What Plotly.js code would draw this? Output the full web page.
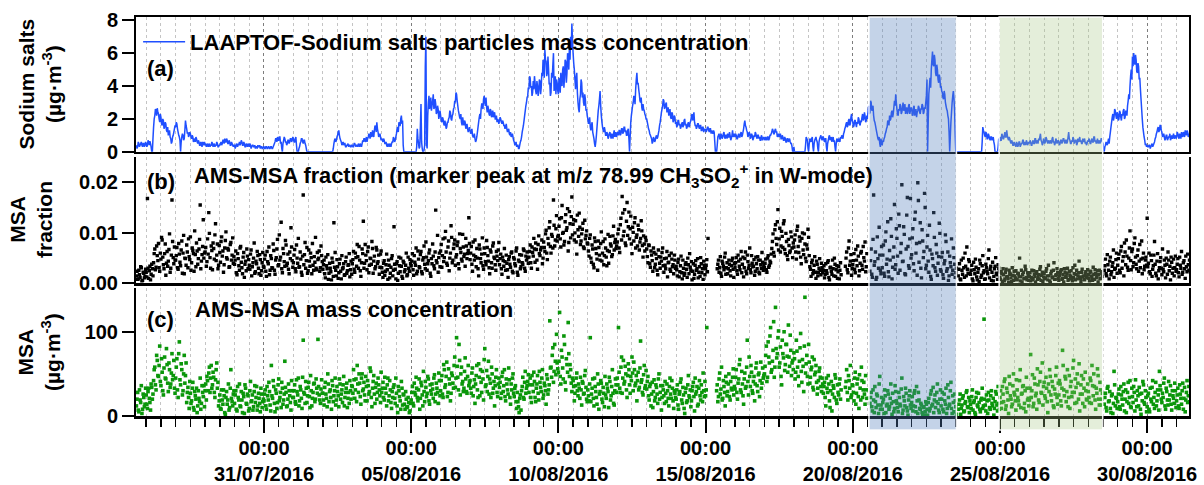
<!DOCTYPE html>
<html>
<head>
<meta charset="utf-8">
<script src="https://cdn.plot.ly/plotly-3.0.1.min.js"></script>
<style>
  html, body { margin: 0; padding: 0; background: #fff; }
  #chart { width: 1204px; height: 485px; }
</style>
</head>
<body>
<div id="chart"></div>
<script>
// Samples on the hour and on the half hour, from 26/07/2016 16:00 to 31/08/2016 10:30.
const seriesStart = Date.UTC(2016, 6, 26, 16, 0);

// (a) LAAPTOF sodium-salt particle mass concentration, µg·m-3 (0 where nothing was recorded)
const sodiumSalts = [
  0.4,0.3,0.5,0.4,0.6,0.3,0.5,0.4,
  0.5,0.4,0.6,0.65,0.3,0, 1.5,2.2,2.5,2.65,2.3,1.8, 2.1,1.6,1.9,1.5,1.7,1.2, 1.0,1.3,0.8,0.6,1.0,1.4,
  1.5,1.7,1.2,0.9,0,0.9, 1.0,0.8,1.9,1.4,1.2,1.0, 1.1,0.8,0.9,0.7,0.6,0.8, 0.5,0.6,0.4,0.5,0.6,0.4,
  0.4,0.3,0.5,0.4,0.3,0.4, 0.5,0.4,0.3,0.4,0.5,0.3, 0.4,0.6,0.5,0.7,0.8,0.6, 0.7,0.5,0.6,0.4,0.5,0.3,
  0.4,0.3,0.4,0.5,0.6,0.5, 0.6,0.4,0.5,0.3,0.4,0.5, 0.3,0.4,0.3,0.4,0.3,0.2, 0.3,0.4,0.3,0.2,0.3,0.2,
  0.3,0.2,0.3,0.2,0.3,0.2, 0.3,0.2,0.4,0.6,0.8,0.9, 0.7,0.9,0.6,0,0.7,0.8, 0.6,0.5,0.7,0.6,0.8,0.7,
  0.8,0.6,0.9,0,0,0.3, 0.6,0.8,0.5,0.7,0.4,0, 0,0,0,0,0,0, 0,0,0,0,0,0,
  0,0,0,0,0,0, 0,0,0,0.5,0.8,0.7, 1.0,1.3,0.8,0.6,0.5,0.4, 0.5,0.3,0.4,0.3,0.4,0.3,
  0.4,0.3,0.5,0.3,0.4,0.5, 0.3,0.4,0.5,0.6,0.8,0.7, 0.6,0.9,1.0,1.2,0.9,1.1, 1.3,1.5,1.8,1.2,1.0,0.9,
  0.8,0.6,0.7,0.5,0.4,0.5, 0.3,0.4,0.5,0.6,0.8,0.7, 1.1,1.5,1.8,1.6,2.2,1.9, 0,0,0,0,0,0,
  0,0,0,0,0,1.4, 0.5,0.3,2.9,0.2,0,0.4, 7.0,0.2,3.0,2.6,3.3,2.8, 3.5,2.7,2.9,2.4,2.6,2.2,
  2.2,1.8,2.0,1.6,1.7,1.5, 1.8,2.1,2.4,1.9,2.3,2.7, 3.0,3.5,2.8,2.3,2.0,1.8, 2.1,1.6,1.8,1.5,1.4,1.3,
  1.3,1.2,1.0,0.9,0.8,0.7, 1.2,1.8,2.3,2.6,2.9,3.2, 3.0,3.3,2.4,2.6,2.2,2.5, 2.3,2.1,2.4,2.0,1.8,1.9,
  1.9,2.0,1.7,1.8,1.6,1.5, 1.4,1.3,1.1,1.2,1.0,0.9, 0.6,0.5,0.3,0.4,0.2,0.6, 0.9,1.4,1.9,2.5,3.0,3.4,
  3.8,4.5,4.0,3.6,3.8,4.2, 3.5,4.0,3.7,4.3,3.9,4.6, 5.2,6.2,5.5,4.8,5.0,4.2, 3.6,4.5,6.0,4.0,3.5,4.2,
  3.5,4.2,4.8,4.0,5.2,4.5, 5.5,4.8,5.8,6.5,7.0,7.8, 6.0,5.0,3.8,4.8,3.0,2.4, 3.5,4.2,3.6,2.8,3.2,2.6,
  2.0,1.8,1.5,1.6,1.2,0.8, 0.3,1.0,2.0,2.8,3.7,2.2, 1.5,1.2,1.3,1.0,1.1,0.9, 1.2,0.8,1.0,1.1,0.9,1.0,
  1.2,1.0,1.3,1.1,1.4,1.2, 1.5,1.3,1.0,1.4,0,1.8, 2.5,3.0,3.3,3.8,4.8,4.2, 3.5,3.0,2.7,2.9,2.5,2.2,
  2.0,1.6,1.3,1.0,0.8,0.6, 0.8,0.7,1.0,0.9,1.3,1.8, 2.4,2.8,3.1,2.7,3.0,2.5, 2.2,2.6,2.0,2.3,1.9,2.1,
  1.8,1.6,1.9,1.7,1.5,1.8, 1.6,2.0,1.7,1.5,1.8,1.6, 1.9,2.3,2.1,1.8,1.6,1.5, 1.7,1.4,1.6,1.3,1.5,1.4,
  1.4,1.3,1.5,1.2,1.4,1.3, 1.1,1.2,0,0,0.9,1.1, 0.8,1.0,0.9,1.2,0.8,1.0, 1.1,0.9,1.0,0.8,1.3,1.0,
  0.9,1.0,0.8,1.1,0.9,1.2, 1.0,1.4,1.9,1.5,1.2,1.0, 1.1,0.9,1.0,0.8,0.9,1.1, 0.8,1.0,0.9,0.7,0.9,0.8,
  0.8,0.9,0.7,0.9,0.8,1.0, 1.2,1.3,1.1,1.4,1.2,1.0, 0.9,1.1,0.8,0.9,0.7,0.8, 0.6,0.8,0.7,0.6,0.5,0,
  0.3,0,0,0,0,0, 0,0,0,0,0.9,0.7, 0,0.8,0.6,0.9,0,0.7, 0.9,0.6,0,0.8,1.0,0.7,
  0.9,0.6,0.8,0,0.7,1.0, 0.8,0.6,0.9,0.7,0,0.8, 0.6,0.7,0.9,1.0,0.8,1.2, 1.5,1.8,1.6,2.0,1.7,2.3,
  1.8,1.6,1.9,1.5,1.7,2.0, 1.6,1.8,2.3,2.0,2.2,1.9, 2.0,2.8,2.4,3.0,2.6,2.2, 1.8,1.4,1.0,0.7,0.5,0.8,
  0.4,0.6,0.9,1.2,1.5,1.8, 2.2,2.0,2.5,2.3,3.1,3.5, 2.6,2.2,2.5,2.8,2.4,3.0, 2.6,2.3,2.7,2.4,2.9,2.5,
  2.6,2.2,2.8,2.4,2.1,2.5, 2.7,2.3,2.6,2.8,2.4,2.6, 3.4,0,3.5,4.5,5.0,6.1, 5.2,5.6,4.6,5.0,4.2,4.5,
  4.0,3.6,3.2,3.5,2.8,2.5, 2.0,0,1.8,3.0,3.7,2.5, 0,0,0,0,0,0, 0,0,0,0,0,0,
  0,0,0,0,0,0, 0,0,0,0,1.5,1.2, 0.9,1.1,0.8,1.0,0.7,0.9, 0.8,0.6,0,0,0,0.8,
  0.9,0.7,1.0,0.8,1.2,0.9, 1.0,0.7,0.8,0.5,0.6,0.4, 0.5,0.3,0.5,0.4,0.6,0.4, 0.5,0.7,0.5,0.4,0.6,0.5,
  0.5,0.6,0.4,0.7,0.5,0.8, 0.6,0.5,0.7,1.1,0.6,0.5, 0.7,0.6,0.8,0.5,0.6,0.7, 0.5,0.9,0.6,0.5,0.7,0.6,
  0.6,0.5,0.7,0.6,0.8,0.5, 0.7,0.6,1.2,0.7,0.5,0.6, 0.8,0.6,0.7,0.5,0.6,0.9, 0.7,0.5,0.6,0.8,0.6,0.5,
  0.6,0.7,0.5,0.8,0.6,0.9, 0.7,0.6,0.5,0.7,0.6,0.8, 0.5,0,0.4,0.5,0.6,0.5, 1.2,1.8,2.3,2.1,2.5,2.0,
  2.3,2.0,2.4,1.9,2.2,2.6, 2.1,2.4,2.8,3.5,4.0,5.0, 5.8,6.0,5.3,5.6,4.8,5.2, 4.5,3.2,2.0,1.2,0.7,0.5,
  0.4,0.3,0.4,0.3,0.5,0.4, 0.6,0.9,1.2,1.5,1.3,1.6, 1.2,1.0,0.9,0.8,1.0,0.8, 0.9,0.7,1.0,0.9,0.8,1.0,
  0.9,1.1,0.8,1.0,1.2,0.9, 1.1,1.3,1.0,1.2,1.1
];
// same quantity, samples at half past each hour
const sodiumSaltsHalf = [
  0.2,0.6,0.3,0.5,0.4,0.5,0.3,0.6,
  0.3,0.7,0.4,0.5,0,0.8, 2.0,2.6,2.2,2.4,2.0,2.3, 1.7,2.0,1.4,1.8,1.3,1.5, 1.2,0.9,0.5,0.9,1.2,1.6,
  1.8,1.4,1.0,0.7,0.6,1.1, 0.7,1.3,1.6,1.1,0.9,1.2, 0.9,1.0,0.6,0.8,0.9,0.6, 0.7,0.4,0.6,0.3,0.5,0.6,
  0.5,0.4,0.3,0.5,0.4,0.6, 0.3,0.5,0.4,0.6,0.3,0.4, 0.5,0.4,0.7,0.5,0.6,0.8, 0.5,0.7,0.4,0.6,0.4,0.4,
  0.2,0.5,0.3,0.4,0.4,0.7, 0.4,0.6,0.3,0.5,0.3,0.4, 0.5,0.2,0.4,0.3,0.4,0.3, 0.2,0.3,0.4,0.3,0.2,0.3,
  0.2,0.3,0.2,0.3,0.2,0.3, 0.2,0.3,0.5,0.8,0.6,0.7, 0.9,0.5,0.2,0.5,0.9,0.6, 0.4,0.7,0.5,0.8,0.6,0.9,
  0.6,0.8,0.4,0,0.2,0.5, 0.8,0.6,0.7,0.5,0.2,0, 0,0,0,0,0,0, 0,0,0,0,0,0,
  0,0,0,0,0,0, 0,0,0.2,0.7,0.6,0.9, 1.2,1.0,0.7,0.4,0.6,0.5, 0.3,0.4,0.5,0.4,0.3,0.4,
  0.3,0.5,0.4,0.4,0.3,0.4, 0.5,0.3,0.7,0.8,0.6,0.9, 0.8,1.1,0.8,1.0,1.3,0.9, 1.6,1.2,1.4,0.9,1.1,0.7,
  0.7,0.8,0.5,0.6,0.3,0.4, 0.5,0.3,0.6,0.9,0.6,0.9, 1.4,1.2,1.6,2.0,1.7,0.4, 0,0,0,0,0,0,
  0,0,0,0,0.3,0.8, 0.2,1.5,0.6,0,0.1,5.2, 0.5,2.2,3.4,2.9,2.5,3.1, 2.6,3.2,2.3,2.8,2.0,2.5,
  1.9,2.1,1.7,1.9,1.4,1.8, 2.0,2.5,2.0,2.2,2.6,3.1, 3.6,3.1,2.5,2.1,2.3,1.6, 1.8,1.9,1.4,1.7,1.2,1.5,
  1.1,1.4,0.9,1.1,0.6,0.9, 1.5,2.1,2.0,2.9,2.6,3.4, 2.8,2.7,2.8,2.3,2.6,2.1, 2.5,2.3,2.0,2.2,2.0,1.7,
  2.1,1.8,1.9,1.6,1.4,1.7, 1.2,1.4,1.0,0.9,1.1,0.7, 0.4,0.6,0.4,0.2,0.4,0.7, 1.2,1.6,2.2,2.8,3.3,3.9,
  4.6,3.9,3.4,4.3,4.6,3.7, 4.3,3.4,4.4,3.5,4.8,5.6, 4.5,5.6,4.6,5.8,4.1,3.4, 4.8,5.3,3.7,4.6,4.4,3.7,
  4.5,3.6,4.2,5.0,3.9,5.6, 4.2,6.0,5.0,5.6,6.2,6.8, 5.4,4.4,4.5,3.6,2.6,3.2, 4.4,3.3,3.0,3.5,2.5,2.2,
  1.7,2.1,1.3,1.8,1.0,0.5, 0.6,1.5,2.5,3.2,2.8,1.8, 1.3,1.5,1.0,1.2,0.8,1.1, 1.0,1.1,0.8,1.3,1.2,0.9,
  1.1,1.3,1.0,1.4,1.1,1.5, 1.2,1.0,1.3,0.8,0.9,2.2, 2.8,3.4,2.9,4.4,4.1,3.8, 3.1,3.3,2.5,2.6,2.3,2.0,
  1.8,1.4,1.1,0.9,0.5,0.9, 0.6,0.9,0.8,1.1,1.6,2.1, 2.6,3.2,2.6,2.9,2.4,2.7, 2.4,2.1,2.4,1.8,2.2,1.7,
  1.5,1.9,1.6,1.4,1.7,1.5, 1.9,1.6,1.4,1.7,1.5,1.8, 2.2,1.9,2.4,1.6,1.4,1.7, 1.5,1.6,1.3,1.5,1.2,1.3,
  1.2,1.5,1.3,1.4,1.1,1.2, 1.3,0.6,0,0.4,1.0,0.8, 1.1,0.8,1.1,0.9,1.0,0.8, 0.9,1.2,0.7,1.0,0.9,1.1,
  1.1,0.8,1.0,0.9,1.1,0.9, 1.2,1.7,1.6,1.3,0.9,1.2, 0.8,1.1,0.7,1.0,1.2,0.9, 1.0,0.8,0.7,1.0,0.7,0.9,
  0.7,0.8,0.9,0.7,1.0,1.1, 1.4,1.1,1.3,1.2,0.9,1.1, 1.0,0.8,1.0,0.7,0.9,0.6, 0.8,0.6,0.8,0.5,0.3,0,
  0,0,0,0,0,0, 0,0,0,0.4,0.8,0.2, 0.5,0.7,0.8,0.3,0.5,0.8, 0.7,0.2,0.6,0.9,0.8,0.9,
  0.7,0.8,0.3,0.5,0.9,0.7, 0.9,0.8,0.6,0.3,0.5,0.7, 0.8,0.6,0.8,0.9,1.1,1.4, 1.7,1.5,1.9,1.6,2.1,1.9,
  1.5,1.9,1.7,1.8,2.1,1.7, 1.9,2.1,1.9,2.4,1.8,2.2, 2.5,2.3,3.1,2.5,2.8,1.9, 1.6,1.2,0.8,0.9,0.3,0.5,
  0.7,0.8,1.1,1.4,1.9,1.6, 1.9,2.4,2.1,2.7,2.8,3.0, 2.3,2.6,2.9,2.3,2.7,2.5, 2.9,2.6,2.3,2.8,2.3,2.7,
  2.3,2.7,2.2,2.6,2.4,2.8, 2.4,2.6,2.9,2.3,2.7,3.0, 4.4,1.8,4.0,3.9,5.6,5.3, 5.9,4.8,5.3,4.4,4.7,3.9,
  3.7,3.3,3.7,3.0,2.6,2.2, 1.2,0.9,2.4,3.4,3.2,1.0, 0,0,0,0,0,0, 0,0,0,0,0,0,
  0,0,0,0,0,0, 0,0,0,0.6,1.3,1.0, 1.2,0.8,1.1,0.8,0.9,0.7, 0.9,0.4,0,0,0.3,0.6,
  0.7,1.1,0.8,1.0,0.9,1.3, 0.8,0.9,0.6,0.7,0.4,0.6, 0.4,0.6,0.3,0.6,0.3,0.5, 0.7,0.4,0.6,0.7,0.4,0.6,
  0.7,0.4,0.6,0.5,0.8,0.5, 0.7,0.8,0.9,0.7,0.4,0.8, 0.5,0.9,0.6,0.7,0.5,0.6, 0.8,0.6,0.4,0.8,0.5,0.7,
  0.4,0.7,0.5,0.8,0.6,0.7, 0.5,0.9,0.8,0.5,0.7,0.9, 0.5,0.7,0.4,0.8,0.7,0.6, 0.5,0.8,0.7,0.5,0.4,0.7,
  0.8,0.5,0.7,0.6,0.9,0.6, 0.5,0.8,0.6,0.5,0.8,0.6, 0.2,0.3,0.6,0.4,0.8,0.9, 1.5,2.1,1.9,2.6,2.2,2.4,
  1.9,2.5,2.1,2.3,2.5,2.0, 2.5,2.2,3.1,3.2,4.6,4.4, 5.2,5.5,5.9,4.9,5.4,4.4, 3.8,2.6,1.5,0.9,0.4,0.3,
  0.3,0.4,0.2,0.4,0.3,0.5, 0.8,1.1,1.4,1.2,1.6,1.3, 0.9,1.1,0.7,1.0,0.7,0.9, 1.1,0.8,0.8,1.1,0.9,0.8,
  1.2,0.9,1.1,0.8,1.0,1.2, 0.9,1.1,1.3,0.9,1.0
];

// (b) AMS MSA fraction (null = no sample)
const msaFraction = [
  0.0015,0.0008,0.0026,0.0012,0.0031,0.0006,0.0020,0.0014,
  0.0022,0.0168,0.0010,0.0034,0.0018,0.0029, 0.0041,0.0068,0.0032,0.0055,0.0079,0.0024, 0.0048,0.0086,0.0037,0.0059,0.0016,0.0063, 0.0044,0.0098,0.0030,0.0165,0.0051,0.0072,
  0.0046,0.0071,0.0028,0.0058,0.0035,0.0084, 0.0060,0.0019,0.0049,0.0076,0.0031,0.0053, 0.0092,0.0041,0.0065,0.0024,0.0057,0.0080, 0.0038,0.0068,0.0155,0.0044,0.0073,0.0050,
  0.0062,0.0034,0.0088,0.0140,0.0051,0.0074, 0.0027,0.0069,0.0096,0.0045,0.0078,0.0036, 0.0061,0.0083,0.0054,0.0022,0.0070,0.0102, 0.0048,0.0066,0.0033,0.0081,0.0056,0.0040,
  0.0038,0.0064,0.0017,0.0049,0.0026,0.0073, 0.0031,0.0052,0.0012,0.0044,0.0068,0.0029, 0.0036,0.0058,0.0015,0.0041,0.0080,0.0023, 0.0039,0.0055,0.0019,0.0047,0.0025,0.0061,
  0.0032,0.0056,0.0014,0.0043,0.0072,0.0026, 0.0049,0.0030,0.0065,0.0018,0.0051,0.0087, 0.0037,0.0046,0.0121,0.0021,0.0059,0.0034, 0.0076,0.0040,0.0028,0.0062,0.0110,0.0045,
  0.0041,0.0067,0.0023,0.0050,0.0089,0.0033, 0.0048,0.0016,0.0175,0.0057,0.0030,0.0071, 0.0025,0.0044,0.0060,0.0019,0.0036,0.0053, 0.0091,0.0027,0.0047,0.0064,0.0031,0.0055,
  0.0028,0.0046,0.0011,0.0035,0.0057,0.0020, 0.0030,0.0007,0.0042,0.0120,0.0061,0.0015, 0.0033,0.0021,0.0048,0.0009,0.0029,0.0039, 0.0017,0.0052,0.0025,0.0037,0.0013,0.0044,
  0.0039,0.0063,0.0022,0.0051,0.0077,0.0030, 0.0046,0.0014,0.0068,0.0123,0.0040,0.0056, 0.0027,0.0072,0.0036,0.0049,0.0083,0.0020, 0.0054,0.0033,0.0066,0.0043,0.0018,0.0058,
  0.0031,0.0012,0.0045,0.0024,0.0058,0.0008, 0.0036,0.0020,0.0049,0.0015,0.0112,0.0028, 0.0039,0.0006,0.0052,0.0023,0.0034,0.0010, 0.0041,0.0027,0.0060,0.0017,0.0030,0.0047,
  0.0035,0.0059,0.0016,0.0042,0.0070,0.0024, 0.0048,0.0031,0.0063,0.0019,0.0051,0.0038, 0.0082,0.0026,0.0045,0.0066,0.0014,0.0039, 0.0054,0.0029,0.0145,0.0041,0.0022,0.0060,
  0.0064,0.0032,0.0088,0.0051,0.0103,0.0040, 0.0072,0.0025,0.0060,0.0091,0.0046,0.0078, 0.0036,0.0057,0.0082,0.0029,0.0069,0.0048, 0.0097,0.0053,0.0034,0.0074,0.0059,0.0130,
  0.0047,0.0073,0.0024,0.0056,0.0086,0.0033, 0.0050,0.0015,0.0068,0.0041,0.0090,0.0028, 0.0059,0.0037,0.0071,0.0044,0.0019,0.0062, 0.0030,0.0080,0.0049,0.0026,0.0054,0.0066,
  0.0037,0.0058,0.0018,0.0045,0.0069,0.0026, 0.0040,0.0012,0.0053,0.0032,0.0062,0.0021, 0.0048,0.0035,0.0070,0.0016,0.0043,0.0029, 0.0056,0.0038,0.0065,0.0024,0.0046,0.0051,
  0.0052,0.0076,0.0030,0.0061,0.0089,0.0042, 0.0067,0.0028,0.0094,0.0055,0.0071,0.0039, 0.0082,0.0063,0.0105,0.0047,0.0078,0.0122, 0.0060,0.0093,0.0165,0.0074,0.0108,0.0084,
  0.0095,0.0128,0.0072,0.0154,0.0101,0.0083, 0.0136,0.0110,0.0064,0.0142,0.0090,0.0171, 0.0117,0.0086,0.0124,0.0058,0.0106,0.0139, 0.0077,0.0098,0.0119,0.0069,0.0088,0.0104,
  0.0078,0.0054,0.0096,0.0042,0.0068,0.0031, 0.0083,0.0059,0.0026,0.0071,0.0046,0.0102, 0.0060,0.0037,0.0088,0.0052,0.0065,0.0040, 0.0093,0.0074,0.0057,0.0113,0.0081,0.0069,
  0.0082,0.0107,0.0061,0.0129,0.0172,0.0094, 0.0146,0.0075,0.0160,0.0112,0.0088,0.0133, 0.0059,0.0101,0.0120,0.0070,0.0096,0.0115, 0.0066,0.0089,0.0104,0.0052,0.0078,0.0091,
  0.0068,0.0041,0.0075,0.0032,0.0056,0.0024, 0.0061,0.0038,0.0049,0.0017,0.0053,0.0030, 0.0044,0.0070,0.0022,0.0036,0.0050,0.0013, 0.0042,0.0028,0.0060,0.0033,0.0019,0.0046,
  0.0034,0.0015,0.0048,0.0023,0.0054,0.0009, 0.0030,0.0020,0.0041,0.0012,0.0037,0.0059, 0.0026,0.0007,0.0039,0.0018,0.0045,0.0029, 0.0011,0.0033,0.0051,0.0021,0.0008,0.0036,
  0.0029,0.0047,0.0089,null,null,null, null,null,null,null,0.0038,0.0022, 0.0053,0.0014,0.0040,0.0027,0.0060,0.0031, 0.0019,0.0046,0.0025,0.0035,0.0050,0.0012,
  0.0032,0.0051,0.0018,0.0044,0.0027,0.0063, 0.0038,0.0013,0.0049,0.0024,0.0056,0.0030, 0.0070,0.0021,0.0040,0.0034,0.0016,0.0052, 0.0029,0.0046,0.0019,0.0037,0.0061,0.0026,
  0.0031,0.0048,0.0022,0.0055,0.0036,0.0041, 0.0069,0.0098,0.0054,0.0116,0.0077,0.0146, 0.0088,0.0062,0.0103,0.0071,0.0124,0.0059, 0.0083,0.0047,0.0075,0.0064,0.0092,0.0051,
  0.0072,0.0096,0.0048,0.0113,0.0061,0.0084, 0.0039,0.0100,0.0057,0.0078,0.0043,0.0068, 0.0091,0.0033,0.0014,0.0046,0.0025,0.0053, 0.0010,0.0038,0.0022,0.0049,0.0017,0.0031,
  0.0026,0.0011,0.0039,0.0020,0.0045,0.0007, 0.0032,0.0018,0.0029,0.0050,0.0014,0.0035, 0.0023,0.0009,0.0041,null,null,null, 0.0034,0.0062,0.0021,0.0084,0.0044,0.0016,
  0.0037,0.0059,0.0021,0.0046,0.0074,0.0015, 0.0040,0.0063,0.0028,0.0051,0.0082,0.0033, null,null,0.0024,0.0068,0.0012,0.0175, 0.0043,0.0008,0.0092,0.0030,0.0056,0.0019,
  0.0031,0.0076,0.0014,0.0102,0.0048,0.0023, 0.0065,0.0128,0.0009,0.0052,0.0156,0.0037, 0.0089,0.0020,0.0114,0.0061,0.0195,0.0044, 0.0097,0.0017,0.0135,0.0073,0.0030,0.0168,
  0.0057,0.0108,0.0025,0.0141,0.0079,0.0199, 0.0042,0.0120,0.0011,0.0084,0.0063,0.0150, 0.0036,0.0095,0.0022,0.0066,0.0008,0.0049, 0.0140,0.0031,0.0077,0.0016,0.0053,0.0099,
  0.0024,0.0061,0.0010,0.0045,0.0083,0.0029, 0.0006,0.0054,0.0033,0.0018,0.0070,0.0038, 0.0021,null,0.0015,0.0039,0.0007,0.0026, 0.0050,0.0012,0.0034,0.0072,0.0020,0.0043,
  0.0018,0.0036,0.0005,0.0027,0.0048,0.0013, 0.0022,0.0004,0.0039,0.0016,0.0055,0.0025, 0.0009,0.0031,0.0019,0.0066,0.0028,0.0006, 0.0042,0.0014,0.0034,0.0020,0.0008,0.0030,
  0.0012,0.0023,0.0004,0.0017,0.0009,0.0028, 0.0014,0.0002,0.0020,0.0011,0.0031,0.0006, 0.0015,0.0025,0.0008,0.0019,0.0050,0.0013, 0.0003,0.0022,0.0010,0.0027,0.0007,0.0016,
  0.0014,0.0005,0.0026,0.0010,0.0018,0.0003, 0.0023,0.0012,0.0009,0.0033,0.0016,0.0004, 0.0020,0.0011,0.0029,0.0007,0.0015,0.0002, 0.0024,0.0013,0.0041,0.0008,0.0017,0.0021,
  0.0006,0.0019,0.0027,0.0010,0.0003,0.0022, 0.0014,0.0030,0.0008,0.0016,0.0025,0.0005, 0.0012,0.0036,0.0018,0.0009,0.0021,0.0013, 0.0004,0.0028,0.0015,0.0007,0.0023,0.0011,
  0.0017,0.0005,0.0024,0.0012,0.0032,0.0008, 0.0019,0.0014,0.0003,0.0026,0.0010,0.0020, null,0.0026,0.0048,0.0015,0.0037,0.0009, 0.0052,0.0023,0.0041,0.0012,0.0030,0.0060,
  0.0036,0.0058,0.0021,0.0073,0.0044,0.0015, 0.0062,0.0086,0.0032,0.0050,0.0104,0.0027, 0.0068,0.0041,0.0090,0.0038,0.0055,0.0024, 0.0077,0.0048,0.0019,0.0060,0.0034,0.0052,
  0.0129,0.0040,0.0023,0.0056,0.0014,0.0035, 0.0083,0.0020,0.0044,0.0009,0.0031,0.0051, 0.0017,0.0028,0.0046,0.0011,0.0038,0.0062, 0.0025,0.0007,0.0042,0.0030,0.0015,0.0054,
  0.0027,0.0049,0.0013,0.0036,0.0063,0.0022, 0.0045,0.0010,0.0033,0.0058,0.0026
];
// same quantity, samples at half past each hour
const msaFractionHalf = [
  0.0024,0.0009,0.0017,0.0033,0.0005,0.0022,0.0011,0.0028,
  0.0013,0.0030,0.0025,0.0007,0.0038,0.0015, 0.0059,0.0027,0.0074,0.0045,0.0031,0.0060, 0.0091,0.0052,0.0029,0.0078,0.0040,0.0034, 0.0067,0.0022,0.0056,0.0083,0.0039,0.0046,
  0.0055,0.0031,0.0079,0.0042,0.0066,0.0020, 0.0095,0.0050,0.0036,0.0062,0.0088,0.0047, 0.0026,0.0070,0.0059,0.0104,0.0033,0.0064, 0.0049,0.0087,0.0029,0.0057,0.0126,0.0060,
  0.0071,0.0043,0.0058,0.0099,0.0030,0.0065, 0.0080,0.0048,0.0118,0.0056,0.0029,0.0075, 0.0042,0.0092,0.0064,0.0037,0.0085,0.0051, 0.0069,0.0032,0.0077,0.0046,0.0090,0.0053,
  0.0046,0.0021,0.0059,0.0035,0.0070,0.0042, 0.0019,0.0061,0.0038,0.0025,0.0054,0.0047, 0.0028,0.0066,0.0033,0.0050,0.0020,0.0044, 0.0063,0.0030,0.0057,0.0016,0.0041,0.0034,
  0.0048,0.0024,0.0063,0.0039,0.0017,0.0055, 0.0031,0.0078,0.0026,0.0046,0.0068,0.0035, 0.0096,0.0052,0.0029,0.0069,0.0043,0.0085, 0.0036,0.0058,0.0019,0.0049,0.0072,0.0032,
  0.0056,0.0029,0.0076,0.0040,0.0032,0.0062, 0.0022,0.0054,0.0037,0.0081,0.0045,0.0020, 0.0066,0.0034,0.0051,0.0079,0.0026,0.0042, 0.0030,0.0061,0.0050,0.0024,0.0074,0.0043,
  0.0037,0.0019,0.0052,0.0029,0.0008,0.0040, 0.0023,0.0050,0.0014,0.0032,0.0026,0.0047, 0.0010,0.0039,0.0024,0.0055,0.0031,0.0016, 0.0043,0.0020,0.0036,0.0059,0.0027,0.0018,
  0.0047,0.0028,0.0060,0.0034,0.0053,0.0073, 0.0025,0.0041,0.0059,0.0030,0.0077,0.0045, 0.0063,0.0021,0.0050,0.0038,0.0069,0.0044, 0.0029,0.0071,0.0040,0.0056,0.0032,0.0064,
  0.0022,0.0040,0.0016,0.0037,0.0027,0.0046, 0.0011,0.0032,0.0055,0.0026,0.0038,0.0009, 0.0043,0.0020,0.0035,0.0050,0.0014,0.0044, 0.0023,0.0036,0.0015,0.0052,0.0024,0.0039,
  0.0044,0.0027,0.0055,0.0036,0.0019,0.0064, 0.0033,0.0057,0.0023,0.0046,0.0074,0.0029, 0.0052,0.0039,0.0060,0.0020,0.0049,0.0078, 0.0035,0.0062,0.0045,0.0095,0.0051,0.0033,
  0.0077,0.0055,0.0043,0.0090,0.0062,0.0036, 0.0084,0.0050,0.0114,0.0041,0.0069,0.0086, 0.0052,0.0075,0.0039,0.0098,0.0061,0.0044, 0.0072,0.0058,0.0089,0.0049,0.0065,0.0079,
  0.0060,0.0038,0.0082,0.0046,0.0053,0.0069, 0.0029,0.0076,0.0049,0.0058,0.0035,0.0070, 0.0043,0.0085,0.0055,0.0031,0.0066,0.0041, 0.0074,0.0052,0.0037,0.0063,0.0045,0.0081,
  0.0049,0.0029,0.0052,0.0034,0.0043,0.0056, 0.0027,0.0047,0.0038,0.0060,0.0024,0.0051, 0.0039,0.0064,0.0022,0.0046,0.0057,0.0033, 0.0041,0.0068,0.0030,0.0054,0.0062,0.0040,
  0.0063,0.0041,0.0072,0.0054,0.0068,0.0080, 0.0046,0.0077,0.0059,0.0066,0.0086,0.0050, 0.0071,0.0098,0.0060,0.0089,0.0110,0.0073, 0.0097,0.0070,0.0115,0.0086,0.0134,0.0092,
  0.0113,0.0088,0.0130,0.0099,0.0076,0.0122, 0.0105,0.0148,0.0081,0.0118,0.0132,0.0096, 0.0126,0.0100,0.0082,0.0135,0.0093,0.0111, 0.0084,0.0107,0.0072,0.0125,0.0095,0.0080,
  0.0064,0.0089,0.0050,0.0076,0.0038,0.0090, 0.0069,0.0048,0.0084,0.0056,0.0079,0.0044, 0.0083,0.0055,0.0070,0.0035,0.0097,0.0063, 0.0078,0.0053,0.0094,0.0066,0.0087,0.0074,
  0.0098,0.0070,0.0116,0.0086,0.0139,0.0103, 0.0080,0.0123,0.0095,0.0141,0.0108,0.0078, 0.0111,0.0084,0.0130,0.0091,0.0074,0.0106, 0.0082,0.0124,0.0075,0.0094,0.0064,0.0085,
  0.0053,0.0076,0.0039,0.0064,0.0045,0.0070, 0.0031,0.0058,0.0026,0.0066,0.0040,0.0052, 0.0061,0.0035,0.0049,0.0029,0.0063,0.0041, 0.0055,0.0024,0.0048,0.0037,0.0056,0.0030,
  0.0027,0.0042,0.0013,0.0035,0.0021,0.0046, 0.0016,0.0038,0.0028,0.0050,0.0019,0.0032, 0.0043,0.0024,0.0010,0.0036,0.0026,0.0049, 0.0022,0.0014,0.0039,0.0029,0.0044,0.0017,
  0.0036,0.0023,null,null,null,null, null,null,null,0.0029,0.0046,0.0031, 0.0020,0.0044,0.0034,0.0052,0.0018,0.0041, 0.0029,0.0038,0.0015,0.0045,0.0028,0.0039,
  0.0041,0.0025,0.0056,0.0034,0.0048,0.0021, 0.0052,0.0031,0.0062,0.0019,0.0043,0.0036, 0.0027,0.0055,0.0033,0.0047,0.0024,0.0039, 0.0053,0.0022,0.0046,0.0030,0.0042,0.0035,
  0.0040,0.0027,0.0050,0.0032,0.0044,0.0058, 0.0083,0.0061,0.0106,0.0089,0.0122,0.0066, 0.0109,0.0074,0.0093,0.0118,0.0067,0.0099, 0.0055,0.0087,0.0061,0.0102,0.0070,0.0080,
  0.0086,0.0062,0.0105,0.0073,0.0092,0.0052, 0.0089,0.0066,0.0098,0.0050,0.0076,0.0107, 0.0055,0.0028,0.0041,0.0019,0.0036,0.0022, 0.0044,0.0015,0.0030,0.0026,0.0040,0.0021,
  0.0035,0.0018,0.0025,0.0042,0.0012,0.0031, 0.0024,0.0046,0.0015,0.0038,0.0027,0.0010, 0.0034,0.0026,0.0017,null,null,null, 0.0050,0.0027,0.0070,0.0036,0.0057,0.0029,
  0.0045,0.0028,0.0067,0.0035,0.0054,0.0025, 0.0060,0.0036,0.0073,0.0044,0.0023,0.0059, null,null,0.0045,0.0018,0.0087,0.0036, 0.0062,0.0012,0.0049,0.0111,0.0026,0.0073,
  0.0056,0.0020,0.0084,0.0038,0.0122,0.0013, 0.0046,0.0093,0.0032,0.0072,0.0028,0.0108, 0.0054,0.0137,0.0026,0.0079,0.0043,0.0112, 0.0019,0.0068,0.0170,0.0035,0.0088,0.0050,
  0.0090,0.0039,0.0127,0.0060,0.0016,0.0164, 0.0081,0.0030,0.0106,0.0051,0.0178,0.0029, 0.0072,0.0044,0.0115,0.0014,0.0058,0.0035, 0.0091,0.0024,0.0060,0.0040,0.0119,0.0027,
  0.0052,0.0017,0.0039,0.0096,0.0024,0.0062, 0.0015,0.0041,0.0088,0.0026,0.0051,0.0012, 0.0030,null,0.0028,0.0009,0.0046,0.0018, 0.0031,0.0060,0.0015,0.0028,0.0047,0.0019,
  0.0026,0.0009,0.0042,0.0019,0.0032,0.0007, 0.0029,0.0046,0.0012,0.0035,0.0021,0.0008, 0.0038,0.0024,0.0049,0.0011,0.0034,0.0022, 0.0005,0.0029,0.0051,0.0017,0.0037,0.0023,
  0.0008,0.0019,0.0029,0.0005,0.0022,0.0013, 0.0009,0.0026,0.0018,0.0004,0.0016,0.0024, 0.0011,0.0007,0.0020,0.0014,0.0005,0.0026, 0.0017,0.0009,0.0034,0.0012,0.0021,0.0006,
  0.0021,0.0012,0.0007,0.0025,0.0014,0.0020, 0.0008,0.0017,0.0028,0.0006,0.0022,0.0013, 0.0009,0.0024,0.0015,0.0036,0.0005,0.0019, 0.0011,0.0026,0.0008,0.0016,0.0029,0.0010,
  0.0015,0.0024,0.0008,0.0017,0.0029,0.0012, 0.0020,0.0006,0.0023,0.0014,0.0009,0.0031, 0.0019,0.0007,0.0026,0.0015,0.0044,0.0010, 0.0022,0.0013,0.0008,0.0020,0.0014,0.0027,
  0.0010,0.0022,0.0015,0.0006,0.0018,0.0027, 0.0011,0.0025,0.0017,0.0009,0.0023,0.0014, null,0.0035,0.0019,0.0057,0.0026,0.0044, 0.0017,0.0034,0.0066,0.0028,0.0047,0.0020,
  0.0049,0.0026,0.0064,0.0030,0.0053,0.0080, 0.0037,0.0054,0.0026,0.0070,0.0045,0.0063, 0.0033,0.0079,0.0052,0.0029,0.0066,0.0044, 0.0031,0.0084,0.0050,0.0027,0.0046,0.0036,
  0.0033,0.0060,0.0019,0.0045,0.0028,0.0056, 0.0038,0.0015,0.0059,0.0025,0.0043,0.0030, 0.0068,0.0023,0.0036,0.0050,0.0018,0.0046, 0.0034,0.0052,0.0020,0.0048,0.0031,0.0024,
  0.0038,0.0021,0.0052,0.0030,0.0018,0.0041, 0.0029,0.0054,0.0023,0.0037,0.0046
];

// (c) AMS MSA mass concentration, µg·m-3 (null = no sample)
const msaMass = [
  12,28,5,19,36,8,22,14,
  25,9,33,16,38,20, 42,58,31,66,47,83, 36,52,25,70,44,61, 29,55,38,74,48,33,
  45,68,22,88,37,55, 30,72,48,16,34,9, 27,18,40,7,24,33, 12,21,45,15,28,36,
  30,19,42,51,28,60, 37,46,22,55,33,12, 25,8,19,31,4,22, 14,38,10,55,17,26,
  15,30,6,22,38,11, 19,27,3,33,14,24, 9,41,18,7,29,16, 35,12,21,5,26,17,
  18,31,8,24,40,13, 60,21,35,5,27,16, 44,22,10,33,19,65, 28,12,38,24,7,30,
  22,37,14,29,45,18, 31,9,90,26,41,16, 34,23,48,12,28,39, 20,33,91,25,15,43,
  27,13,40,21,50,17, 31,8,36,24,45,19, 29,11,38,26,16,47, 22,33,10,28,42,20,
  35,55,21,44,60,28, 39,14,50,32,25,47, 18,36,29,53,11,41, 26,34,20,45,31,16,
  28,40,19,33,12,45, 24,31,9,22,37,15, 27,4,30,18,41,13, 25,8,20,11,16,6,
  19,35,12,28,46,22, 31,8,40,25,53,17, 34,27,44,14,30,38, 21,49,26,33,15,42,
  30,48,22,55,37,64, 28,44,18,51,39,60, 34,93,46,85,25,58, 41,33,69,29,47,36,
  42,27,57,35,15,48, 31,62,24,40,53,19, 80,37,29,65,44,22, 50,33,12,46,28,38,
  34,21,47,29,55,18, 38,26,43,14,31,50, 23,36,9,17,4,25, 30,46,20,53,33,41,
  28,45,16,37,52,22, 33,48,19,40,29,55, 25,36,14,44,31,113, 58,72,40,85,49,63,
  52,123,38,70,44,85, 31,61,111,47,55,29, 42,18,36,51,24,33, 46,13,39,27,54,20,
  31,18,93,26,44,12, 35,22,50,8,29,39, 16,27,47,21,33,10, 41,24,55,15,30,37,
  45,105,33,58,27,66, 41,50,22,62,37,47, 70,30,55,39,18,52, 34,89,43,25,60,36,
  32,47,19,38,26,10, 43,22,34,15,50,28, 7,36,24,41,17,30, 12,45,21,33,9,27,
  20,37,8,29,44,15, 25,3,33,18,48,22, 11,30,40,6,26,35, 14,42,19,28,51,23,
  24,105,null,null,null,null, null,null,null,30,17,44, 26,58,21,35,12,40, 29,50,19,33,46,25,
  32,55,20,44,67,28, 38,14,51,35,90,25, 47,60,30,41,18,57, 36,49,23,64,39,45,
  50,72,41,88,63,105, 55,78,46,129,69,93, 58,82,37,74,100,61, 85,52,70,96,48,66,
  75,44,90,58,36,81, 53,67,29,141,62,47, 85,39,55,70,31,49, 60,26,42,57,35,45,
  27,40,12,33,48,18, 30,6,36,22,45,15, 28,38,20,null,null,null, 34,55,19,42,60,25,
  36,18,52,27,44,9, 33,58,22,40,14,31, null,null,15,28,6,19, 35,10,24,3,47,13,
  8,20,31,4,14,26, 11,38,2,17,9,29, 15,5,22,12,45,7, 18,33,10,1,24,13,
  16,6,27,11,35,3, 19,8,13,2,10,5, 14,1,21,9,30,14, 4,25,17,38,7,20,
  12,28,5,18,33,9, 22,14,40,3,16,26, 11,null,8,19,2,13, 24,6,17,30,10,4,
  14,23,7,18,2,28, 11,16,5,21,9,115, 13,25,3,19,8,30, 12,1,17,26,6,15,
  22,9,35,17,44,12, 28,3,38,20,14,50, 25,7,31,18,42,10, 27,36,15,5,33,21,
  19,73,30,11,45,24, 8,37,16,52,27,13, 40,21,33,4,29,47, 18,35,10,26,58,14,
  25,38,12,78,31,47, 17,55,22,9,41,28, 66,15,34,50,20,6, 37,26,44,11,30,19,
  29,16,42,60,24,35, 8,27,48,13,31,20, null,14,27,6,35,18, 9,24,3,53,12,21,
  17,32,8,25,13,38, 20,4,28,15,42,10, 23,35,6,19,30,12, 26,2,18,37,14,22,
  11,27,5,20,34,14, 9,40,18,25,53,31, 16,22,45,8,29,13, 19,36,7,24,15,30,
  18,33,9,26,14,39, 21,5,28,16,35
];
// same quantity, samples at half past each hour
const msaMassHalf = [
  20,7,31,16,3,26,11,33,
  14,29,21,7,34,26, 55,37,72,48,60,41, 68,30,57,45,80,39, 63,34,51,43,66,27,
  58,31,74,43,62,25, 50,39,63,28,22,41, 15,33,10,29,20,4, 30,17,8,36,23,11,
  38,47,30,58,45,33, 52,28,43,63,40,18, 9,31,14,24,2,29, 19,7,33,21,12,30,
  25,8,35,19,12,29, 4,23,37,15,26,6, 30,17,25,11,36,22, 7,27,15,33,10,20,
  26,12,35,19,29,6, 24,42,15,31,9,37, 18,28,40,14,26,34, 11,20,30,16,42,22,
  30,17,43,25,12,35, 21,46,28,15,33,24, 40,10,30,21,38,17, 44,27,35,19,32,27,
  19,34,26,11,38,29, 22,42,17,30,13,35, 24,44,20,31,37,12, 28,39,21,15,30,36,
  27,43,31,17,38,50, 23,45,30,40,18,35, 42,26,57,22,33,48, 15,39,28,37,24,52,
  33,22,46,27,37,18, 42,16,29,34,21,45, 12,35,23,8,33,26, 14,29,10,22,4,15,
  28,15,39,25,33,18, 44,21,36,12,29,41, 23,47,18,37,26,32, 45,17,39,28,51,24,
  42,26,61,34,47,23, 56,38,27,48,33,70, 45,59,31,66,50,38, 29,53,44,27,60,40,
  33,51,24,43,38,60, 22,46,55,28,44,67, 35,54,47,26,39,58, 27,41,36,55,23,45,
  40,27,52,36,23,44, 31,57,22,38,45,27, 33,17,28,11,21,7, 35,22,40,27,36,49,
  37,22,48,29,41,17, 38,27,53,34,45,21, 39,30,49,26,37,57, 46,81,53,65,97,56,
  65,47,78,57,95,40, 68,52,74,61,39,45, 35,27,45,30,38,21, 31,41,26,48,34,17,
  24,38,17,33,21,45, 29,14,38,26,42,20, 34,11,25,38,29,46, 19,35,27,13,44,28,
  37,52,28,70,45,38, 59,31,48,55,27,42, 51,64,36,48,42,31, 57,40,28,49,33,54,
  41,24,35,12,40,29, 18,37,26,44,20,36, 22,31,15,27,38,21, 35,26,42,18,30,22,
  31,13,26,40,19,34, 9,28,16,37,24,31, 18,35,23,45,29,12, 33,24,37,17,30,41,
  31,null,null,null,null,null, null,null,null,37,23,51, 32,19,42,28,47,24, 38,23,41,31,56,35,
  46,28,39,61,31,53, 24,44,33,58,41,70, 35,52,27,47,38,63, 29,51,42,33,57,48,
  59,83,46,70,95,52, 65,112,58,80,74,101, 63,47,90,69,54,85, 71,108,59,78,63,55,
  68,52,77,47,65,98, 40,59,83,51,72,38, 64,46,58,34,67,52, 40,33,53,46,29,38,
  35,22,45,28,38,10, 41,26,33,49,19,37, 25,44,31,null,null,null, 41,28,48,33,22,37,
  28,45,14,38,23,49, 19,42,31,26,48,21, null,null,22,11,31,4, 17,26,13,38,8,22,
  16,3,24,12,30,8, 21,15,27,5,36,18, 10,28,14,32,3,23, 12,27,6,19,30,9,
  23,12,30,5,18,28, 9,15,4,11,1,17, 8,16,6,26,12,34, 19,10,28,15,4,31,
  20,8,26,14,3,37, 12,30,9,24,5,18, 2,null,14,26,9,21, 5,15,28,11,22,18,
  9,31,16,4,22,13, 27,8,19,33,12,20, 6,18,28,10,24,15, 21,9,29,13,35,8,
  30,16,26,41,8,33, 19,47,24,11,36,28, 18,43,22,13,55,26, 35,9,30,46,19,12,
  33,22,49,15,38,27, 56,19,41,28,63,35, 24,46,17,38,55,25, 41,12,32,48,22,39,
  42,18,33,60,24,44, 29,11,48,35,23,57, 28,44,16,39,62,26, 48,15,33,52,20,38,
  22,45,15,36,50,19, 33,56,20,40,13,27, null,22,10,33,17,29, 4,26,15,37,22,9,
  26,11,35,20,29,6, 31,17,40,22,11,33, 16,28,43,11,24,34, 8,27,41,16,30,5,
  24,8,33,17,42,22, 28,12,31,7,36,20, 27,39,12,33,19,41, 25,14,30,21,39,10,
  25,12,37,21,30,8, 34,19,42,24,17
];

// Date axis labels
const tickDates = ['2016-07-31', '2016-08-05', '2016-08-10', '2016-08-15', '2016-08-20', '2016-08-25', '2016-08-30'];
const tickLabels = ['00:00<br>31/07/2016', '00:00<br>05/08/2016', '00:00<br>10/08/2016', '00:00<br>15/08/2016',
                    '00:00<br>20/08/2016', '00:00<br>25/08/2016', '00:00<br>30/08/2016'];
const timeRange = ['2016-07-26 15:40', '2016-08-31 10:06'];

// Highlighted periods
const bluePeriod = ['2016-08-20 13:12', '2016-08-23 12:30'];
const greenPeriod = ['2016-08-24 23:20', '2016-08-28 11:45'];

const lengths = [sodiumSalts, sodiumSaltsHalf, msaFraction, msaFractionHalf, msaMass, msaMassHalf].map(a => a.length);
if (lengths.some(n => n !== lengths[0])) {
  throw new Error('series lengths differ: ' + lengths.join(','));
}

function pad(n) { return (n < 10 ? '0' : '') + n; }
function stamp(ms) {
  const d = new Date(ms);
  return d.getUTCFullYear() + '-' + pad(d.getUTCMonth() + 1) + '-' + pad(d.getUTCDate()) +
         ' ' + pad(d.getUTCHours()) + ':' + pad(d.getUTCMinutes());
}
const times = sodiumSalts.map((_, i) => stamp(seriesStart + i * 3600000));
const halfTimes = sodiumSalts.map((_, i) => stamp(seriesStart + i * 3600000 + 1800000));

// the line trace needs the two sample sets merged in time order
const lineX = [], lineY = [];
times.forEach((t, i) => {
  lineX.push(t, halfTimes[i]);
  lineY.push(sodiumSalts[i], sodiumSaltsHalf[i]);
});

const FONT = 'Liberation Sans, Arial, Helvetica, sans-serif';
const boldFont = (size) => ({ family: FONT, size: size, color: '#000', weight: 'bold' });

const traces = [
  {
    type: 'scatter', mode: 'lines', x: lineX, y: lineY,
    xaxis: 'x', yaxis: 'y',
    name: 'LAAPTOF-Sodium salts particles mass concentration',
    line: { color: '#1f4fff', width: 1.5, simplify: false },
    showlegend: true
  },
  {
    type: 'scatter', mode: 'markers', x: times.concat(halfTimes), y: msaFraction.concat(msaFractionHalf),
    xaxis: 'x2', yaxis: 'y2', name: 'AMS-MSA fraction',
    marker: { color: '#000', size: 3.4, symbol: 'square', line: { width: 0 } },
    showlegend: false
  },
  {
    type: 'scatter', mode: 'markers', x: times.concat(halfTimes), y: msaMass.concat(msaMassHalf),
    xaxis: 'x3', yaxis: 'y3', name: 'AMS-MSA mass concentration',
    marker: { color: '#0a960a', size: 3.6, symbol: 'square', line: { width: 0 } },
    showlegend: false
  }
];

function xAxis(extra) {
  return Object.assign({
    type: 'date', range: timeRange,
    showline: true, linecolor: '#000', linewidth: 2.5,
    tickmode: 'array', tickvals: tickDates, ticktext: tickLabels,
    showgrid: true, gridcolor: '#7d7d7d', griddash: 'dot', gridwidth: 1,
    zeroline: false, ticks: '', showticklabels: false,
    minor: { tickmode: 'linear', tick0: '2016-07-27', dtick: 43200000,
             showgrid: true, gridcolor: '#c4c4c4', griddash: 'dot', gridwidth: 1, ticks: '' }
  }, extra);
}

function yAxis(extra) {
  return Object.assign({
    showline: true, linecolor: '#000', linewidth: 2, mirror: true,
    ticks: 'outside', ticklen: 12, tickwidth: 2, tickcolor: '#000',
    showgrid: false, zeroline: false, tickfont: boldFont(20), fixedrange: true
  }, extra);
}

const layout = {
  width: 1204, height: 485,
  margin: { l: 136, r: 15, t: 17, b: 69 },
  paper_bgcolor: '#fff', plot_bgcolor: 'rgba(0,0,0,0)',
  showlegend: true,
  legend: { x: 0.002, y: 0.99, xanchor: 'left', yanchor: 'top', bgcolor: 'rgba(0,0,0,0)',
            font: boldFont(22), borderwidth: 0, itemwidth: 42 },
  xaxis: xAxis({ anchor: 'y', mirror: true }),
  xaxis2: xAxis({ anchor: 'y2', matches: 'x' }),
  xaxis3: xAxis({
    anchor: 'y3', matches: 'x', ticks: 'outside', ticklen: 14, tickwidth: 2, tickcolor: '#000',
    showticklabels: true, tickfont: boldFont(20), ticklabelstandoff: -2,
    minor: { tickmode: 'linear', tick0: '2016-07-27', dtick: 43200000,
             showgrid: true, gridcolor: '#c4c4c4', griddash: 'dot', gridwidth: 1,
             ticks: 'outside', ticklen: 8, tickwidth: 1.5, tickcolor: '#000' }
  }),
  yaxis: yAxis({ domain: [0.6622, 1.0], range: [0, 8.2], dtick: 2, anchor: 'x' }),
  yaxis2: yAxis({ domain: [0.3323, 0.6491], range: [0, 0.025], dtick: 0.01, tickformat: '.2f', anchor: 'x2' }),
  yaxis3: yAxis({ domain: [0, 0.3208], range: [0, 152], dtick: 100, anchor: 'x3' }),
  shapes: [
    { type: 'rect', xref: 'x3', yref: 'paper', x0: bluePeriod[0], x1: bluePeriod[1], y0: -0.035, y1: 1.0,
      fillcolor: 'rgba(87,130,188,0.35)', line: { color: 'rgba(255,255,255,0.9)', width: 1.5 }, layer: 'above' },
    { type: 'rect', xref: 'x3', yref: 'paper', x0: greenPeriod[0], x1: greenPeriod[1], y0: -0.035, y1: 1.0,
      fillcolor: 'rgba(167,200,133,0.3)', line: { color: 'rgba(255,255,255,0.9)', width: 1.5 }, layer: 'above' }
  ],
  annotations: [
    { xref: 'paper', yref: 'paper', x: 0.0085, y: 0.8697, xanchor: 'left', yanchor: 'middle',
      text: '(a)', showarrow: false, font: boldFont(22) },
    { xref: 'paper', yref: 'paper', x: 0.0085, y: 0.5877, xanchor: 'left', yanchor: 'middle',
      text: '(b)', showarrow: false, font: boldFont(22) },
    { xref: 'paper', yref: 'paper', x: 0.0532, y: 0.604, xanchor: 'left', yanchor: 'middle',
      text: 'AMS-MSA fraction (marker peak at m/z 78.99 CH<sub>3</sub>SO<sub>2</sub><sup>+</sup> in W-mode)',
      showarrow: false, font: boldFont(21.8) },
    { xref: 'paper', yref: 'paper', x: 0.0085, y: 0.2431, xanchor: 'left', yanchor: 'middle',
      text: '(c)', showarrow: false, font: boldFont(22) },
    { xref: 'paper', yref: 'paper', x: 0.054, y: 0.268, xanchor: 'left', yanchor: 'middle',
      text: 'AMS-MSA mass concentration', showarrow: false, font: boldFont(22) },
    { xref: 'paper', yref: 'paper', x: -0.0921, y: 0.8308, xanchor: 'center', yanchor: 'middle', textangle: -90,
      text: 'Sodium salts<br>(µg·m<sup>-3</sup>)', showarrow: false, font: boldFont(21) },
    { xref: 'paper', yref: 'paper', x: -0.0997, y: 0.4912, xanchor: 'center', yanchor: 'middle', textangle: -90,
      text: 'MSA<br>fraction', showarrow: false, font: boldFont(21) },
    { xref: 'paper', yref: 'paper', x: -0.0921, y: 0.1604, xanchor: 'center', yanchor: 'middle', textangle: -90,
      text: 'MSA<br>(µg·m<sup>-3</sup>)', showarrow: false, font: boldFont(21) }
  ]
};

Plotly.newPlot('chart', traces, layout, { staticPlot: true, displayModeBar: false });
</script>
</body>
</html>
